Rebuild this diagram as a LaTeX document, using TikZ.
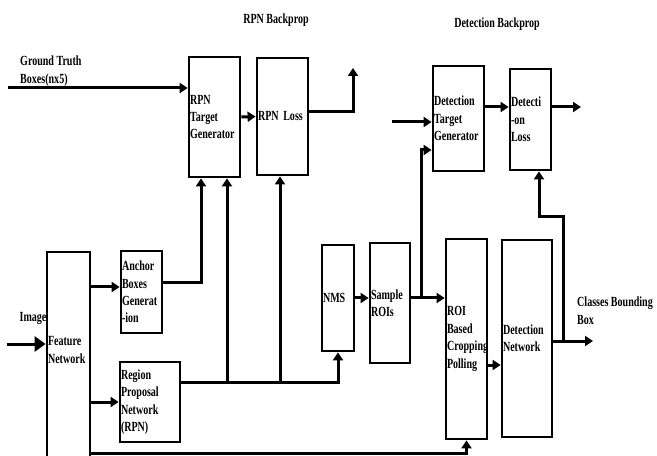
\documentclass[tikz,border=0pt]{standalone}
\usepackage{fontspec}
\setmainfont{Liberation Serif}[FakeStretch=0.72]
\usepackage{tikz}
\usetikzlibrary{arrows.meta,positioning}
\newcommand{\dfont}{\fontsize{14}{17.5}\selectfont\bfseries\hyphenpenalty=10000 }
\tikzset{
  blk/.style={draw, line width=2.8bp, align=left, inner xsep=1bp, inner ysep=0pt, font=\dfont},
  conn/.style={line width=3bp, -{Triangle[length=8bp,width=10bp]}},
  bigconn/.style={line width=3bp, -{Triangle[length=11bp,width=15bp]}},
  txt/.style={font=\dfont, align=left, inner sep=0pt},
}
\begin{document}
\begin{tikzpicture}[x=1bp,y=-1bp]
  \useasboundingbox (0,0) rectangle (657,456);
  % ====== blocks ======
  \node[blk, text width=41bp, minimum height=208bp, text depth=30bp] (feat) at (68.5,356) {Feature\\Network};
  \node[blk, text width=39bp, minimum height=82bp] (anch) at (141.5,292) {Anchor\\Boxes\\Generat\\-ion};
  \node[blk, text width=58bp, minimum height=80bp] (rpn) at (150,402) {Region\\Proposal\\Network\\(RPN)};
  \node[blk, text width=49bp, minimum height=120bp] (rtg) at (214.5,117) {RPN\\Target\\Generator};
  \node[blk, text width=49bp, minimum height=117bp] (rloss) at (282.5,116.5) {RPN Loss};
  \node[blk, text width=30bp, minimum height=106bp] (nms) at (338,298) {NMS};
  \node[blk, text width=38bp, minimum height=120bp] (samp) at (390,303) {Sample\\ROIs};
  \node[blk, text width=39bp, minimum height=200bp] (roi) at (466.5,339) {ROI\\Based\\Cropping\\Polling};
  \node[blk, text width=48bp, minimum height=197bp] (detnet) at (527,338.5) {Detection\\Network};
  \node[blk, text width=49bp, minimum height=105bp] (dtg) at (458.5,118.5) {Detection\\Target\\Generator};
  \node[blk, text width=39bp, minimum height=101bp] (dloss) at (530.5,119.5) {Detecti\\-on\\Loss};
  % ====== labels ======
  \node[txt, anchor=north west] (gt) at (20,56) {Ground Truth\\Boxes(nx5)};
  \node[txt] (img) at (33,318) {Image};
  \node[txt] (rpnbp) at (276,20) {RPN Backprop};
  \node[txt] (detbp) at (497,24) {Detection Backprop};
  \node[txt, anchor=north west] (cls) at (577,297) {Classes Bounding\\Box};
  % ====== free ends and joints ======
  \coordinate (gtin) at (8,88);
  \coordinate (imgin) at (7,344);
  \coordinate (ain) at (121,287);
  \coordinate (aout) at (162,283);
  \coordinate (rlo) at (353,68);
  \coordinate (rlj) at (308,112);
  \coordinate (fbot) at (90,453);
  \coordinate (j1) at (227,382);
  \coordinate (j2) at (280,382);
  \coordinate (j3) at (421,298);
  \coordinate (j4) at (563,341);
  \coordinate (dtgin) at (392,122);
  \coordinate (dtgb) at (433,150);
  \coordinate (dj) at (484,107);
  \coordinate (dlo) at (581,107);
  \coordinate (detout) at (593,341);
  \coordinate (rd) at (490,365);
  \coordinate (dlb) at (539,217);
  % ====== RPN part ======
  \draw[conn] (gtin) -- (rtg.west |- gtin);
  \draw[bigconn] (imgin) -- (feat.west |- imgin);
  \draw[conn] (feat.east |- ain) -- (anch.west |- ain);
  \draw[conn] (feat.east |- rpn.west) -- (rpn.west);
  \draw[conn] (anch.east |- aout) -| ([xshift=-13.5bp]rtg.south);
  \draw[conn] (rtg.east) -- (rloss.west);
  \draw[conn] (rloss.east |- rlj) -| (rlo);
  \draw[conn] (rpn.east |- j1) -| (nms.south);
  \draw[conn] (j1) -- (j1 |- rtg.south);
  \draw[conn] (j2) -- (j2 |- rloss.south);
  \draw[conn] (feat.east |- fbot) -| (roi.south);
  % ====== detection part ======
  \draw[conn] (nms.east) -- (samp.west |- nms.east);
  \draw[conn] (samp.east |- j3) -- (roi.west |- j3);
  \draw[conn] (j3) |- (dtg.west |- dtgb);
  \draw[conn] (dtgin) -- (dtg.west |- dtgin);
  \draw[conn] (dtg.east |- dj) -- (dloss.west |- dj);
  \draw[conn] (dloss.east |- dlo) -- (dlo);
  \draw[conn] (roi.east |- rd) -- (detnet.west |- rd);
  \draw[conn] (detnet.east |- detout) -- (detout);
  \draw[conn] (j4) |- (dlb) -- (dlb |- dloss.south);
\end{tikzpicture}
\end{document}
